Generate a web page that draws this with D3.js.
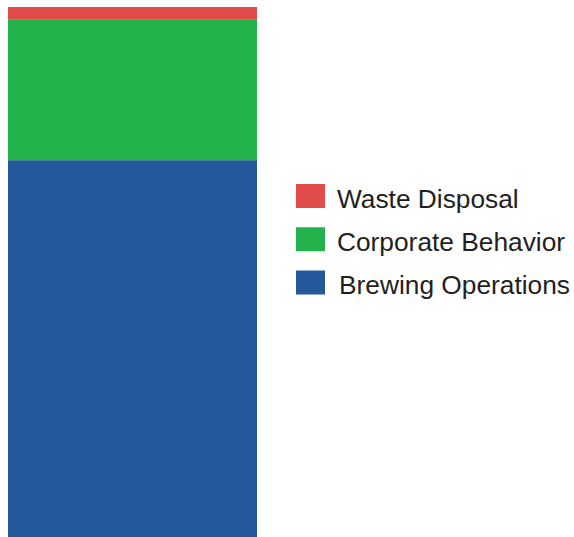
<!DOCTYPE html>
<html>
<head>
<meta charset="utf-8">
<script src="https://cdn.jsdelivr.net/npm/d3@7"></script>
<style>
  html, body { margin: 0; padding: 0; background: #fff; }
  svg { display: block; }
</style>
</head>
<body>
<svg id="chart" width="574" height="537"></svg>
<script>
// Share of impact by category (percent), stacked bottom to top
const categories = ["Brewing Operations", "Corporate Behavior", "Waste Disposal"];
const values = [71.1, 26.6, 2.3];
const colors = ["#25579b", "#24b24c", "#e14b4a"];
// Legend order, top to bottom
const legendOrder = ["Waste Disposal", "Corporate Behavior", "Brewing Operations"];

const svg = d3.select("#chart");

const y = d3.scaleLinear().domain([0, d3.sum(values)]).range([537, 7]);
const x = d3.scaleBand().domain(["all"]).range([8, 257]).padding(0);

const stacked = [];
let acc = 0;
categories.forEach((c, i) => {
  stacked.push({ cat: c, y0: acc, y1: acc + values[i], color: colors[i] });
  acc += values[i];
});

svg.append("g")
  .selectAll("rect")
  .data(stacked)
  .join("rect")
  .attr("x", x("all"))
  .attr("width", x.bandwidth())
  .attr("y", d => y(d.y1))
  .attr("height", d => y(d.y0) - y(d.y1))
  .attr("fill", d => d.color);

const colorOf = d3.scaleOrdinal().domain(categories).range(colors);
const ly = d3.scalePoint().domain(legendOrder).range([196, 282.5]);

const legend = svg.append("g")
  .selectAll("g")
  .data(legendOrder)
  .join("g")
  .attr("transform", d => `translate(296, ${ly(d)})`);

legend.append("rect")
  .attr("x", 0)
  .attr("y", -12)
  .attr("width", 29)
  .attr("height", 24)
  .attr("fill", d => colorOf(d));

legend.append("text")
  .attr("x", (d, i) => i === 2 ? 43 : 41)
  .attr("y", 11.8)
  .attr("font-family", "Liberation Sans, Arial, sans-serif")
  .attr("font-size", 26.3)
  .attr("fill", "#231f20")
  .text(d => d);
</script>
</body>
</html>
